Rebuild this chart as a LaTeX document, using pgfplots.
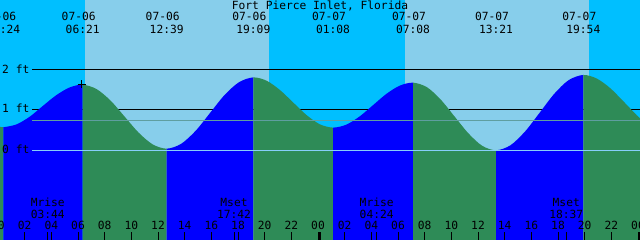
\documentclass[border=0pt]{standalone}
\usepackage{pgfplots}
\pgfplotsset{compat=1.18}
\usepgfplotslibrary{fillbetween}
\usepackage{fontspec}
\newfontfamily\mono{DejaVu Sans Mono}
\definecolor{night}{HTML}{00BFFF}
\definecolor{day}{HTML}{87CEEB}
\definecolor{rise}{HTML}{0000FF}
\definecolor{fall}{HTML}{2E8B57}
\definecolor{meanc}{HTML}{5F9EA0}
\definecolor{zeroc}{HTML}{87CEFA}
\begin{document}
\begin{tikzpicture}[lbl/.style={font=\mono\fontsize{11.3}{12}\selectfont, inner sep=0pt, anchor=base, text=black}]
\begin{axis}[name=ax, width=640bp, height=240bp, scale only axis,
 xmin=0.15, xmax=48.15, ymin=-2.215, ymax=3.711,
 axis line style={draw=none},
 axis background/.style={fill=night},
 xtick={0,2,...,48}, xticklabel={}, ytick=\empty,
 xtick pos=left, tick align=inside, major tick length=8bp,
 tick style={black, line width=1bp},
 axis on top, clip=true]
% daylight bands
\addplot[on layer=pre main, fill=day, draw=none] coordinates {(6.53,-2.3) (6.53,3.8) (20.33,3.8) (20.33,-2.3)} -- cycle;
\addplot[on layer=pre main, fill=day, draw=none] coordinates {(30.53,-2.3) (30.53,3.8) (44.33,3.8) (44.33,-2.3)} -- cycle;
% level lines behind tide
\addplot[on layer=pre main, black, line width=1bp] coordinates {(2.55,2) (48.2,2)};
\addplot[on layer=pre main, black, line width=1bp] coordinates {(2.55,1) (48.2,1)};
% tide curve
\addplot[name path=tide, draw=none, smooth] coordinates {
(0.0,0.59) (0.4,0.57) (1.39,0.64) (2.38,0.83) (3.38,1.10) (4.37,1.36) (5.36,1.55) (6.35,1.62)
(7.40,1.51) (8.45,1.225) (9.50,0.83) (10.55,0.435) (11.60,0.146) (12.65,0.04)
(13.73,0.158) (14.82,0.48) (15.90,0.92) (16.98,1.36) (18.07,1.68) (19.15,1.80)
(20.15,1.717) (21.14,1.49) (22.14,1.18) (23.14,0.87) (24.13,0.643) (25.13,0.56)
(26.13,0.634) (27.13,0.838) (28.13,1.115) (29.13,1.393) (30.13,1.596) (31.13,1.67)
(32.17,1.558) (33.20,1.253) (34.24,0.835) (35.28,0.418) (36.31,0.112) (37.35,0.00)
(38.44,0.125) (39.53,0.465) (40.63,0.93) (41.72,1.395) (42.81,1.735) (43.9,1.86)
(44.9,1.773) (45.9,1.539) (46.9,1.21) (47.9,0.867) (48.2,0.78)};
\addplot[name path=bot, draw=none] coordinates {(0.0,-2.3) (48.2,-2.3)};
\addplot[fall] fill between[of=tide and bot, soft clip={domain=0.0:0.4}];
\addplot[rise] fill between[of=tide and bot, soft clip={domain=0.4:6.35}];
\addplot[fall] fill between[of=tide and bot, soft clip={domain=6.35:12.65}];
\addplot[rise] fill between[of=tide and bot, soft clip={domain=12.65:19.15}];
\addplot[fall] fill between[of=tide and bot, soft clip={domain=19.15:25.13}];
\addplot[rise] fill between[of=tide and bot, soft clip={domain=25.13:31.13}];
\addplot[fall] fill between[of=tide and bot, soft clip={domain=31.13:37.35}];
\addplot[rise] fill between[of=tide and bot, soft clip={domain=37.35:43.9}];
\addplot[fall] fill between[of=tide and bot, soft clip={domain=43.9:48.2}];
% lines on top
\addplot[meanc, line width=1bp] coordinates {(2.55,0.741) (48.2,0.741)};
\addplot[zeroc, line width=1bp] coordinates {(2.55,0) (48.2,0)};
% current marker
\addplot[black, only marks, mark=+, mark size=4bp, mark options={line width=1bp}] coordinates {(6.28,1.63)};
% moon ticks and midnight marks
\addplot[black, line width=1bp] coordinates {(3.73,-2.3) (3.73,-2.017)};
\addplot[black, line width=1bp] coordinates {(17.7,-2.3) (17.7,-2.017)};
\addplot[black, line width=1bp] coordinates {(28.4,-2.3) (28.4,-2.017)};
\addplot[black, line width=1bp] coordinates {(42.62,-2.3) (42.62,-2.017)};
\addplot[black, line width=3bp] coordinates {(24.1,-2.3) (24.1,-2.017)};
\addplot[black, line width=3bp] coordinates {(48.1,-2.3) (48.1,-2.017)};
% title
\node[lbl] at (axis cs:24.15,3.477) {Fort Pierce Inlet, Florida};
% tide times
\node[lbl, xshift=-4bp] at (axis cs:0.4,3.193) {07-06};  \node[lbl] at (axis cs:0.4,2.889) {00:24};
\node[lbl, xshift=-4bp] at (axis cs:6.35,3.193) {07-06}; \node[lbl] at (axis cs:6.35,2.889) {06:21};
\node[lbl, xshift=-4bp] at (axis cs:12.65,3.193) {07-06}; \node[lbl] at (axis cs:12.65,2.889) {12:39};
\node[lbl, xshift=-4bp] at (axis cs:19.15,3.193) {07-06}; \node[lbl] at (axis cs:19.15,2.889) {19:09};
\node[lbl, xshift=-4bp] at (axis cs:25.13,3.193) {07-07}; \node[lbl] at (axis cs:25.13,2.889) {01:08};
\node[lbl, xshift=-4bp] at (axis cs:31.13,3.193) {07-07}; \node[lbl] at (axis cs:31.13,2.889) {07:08};
\node[lbl, xshift=-4bp] at (axis cs:37.35,3.193) {07-07}; \node[lbl] at (axis cs:37.35,2.889) {13:21};
\node[lbl, xshift=-4bp] at (axis cs:43.9,3.193) {07-07}; \node[lbl] at (axis cs:43.9,2.889) {19:54};
% level labels
\node[lbl, anchor=base west] at (axis cs:0.3,1.901) {2 ft};
\node[lbl, anchor=base west] at (axis cs:0.3,0.928) {1 ft};
\node[lbl, anchor=base west] at (axis cs:0.3,-0.091) {0 ft};
% moon
\node[lbl] at (axis cs:3.73,-1.393) {Mrise}; \node[lbl] at (axis cs:3.73,-1.679) {03:44};
\node[lbl] at (axis cs:17.7,-1.393) {Mset};  \node[lbl] at (axis cs:17.7,-1.679) {17:42};
\node[lbl] at (axis cs:28.4,-1.393) {Mrise}; \node[lbl] at (axis cs:28.4,-1.679) {04:24};
\node[lbl] at (axis cs:42.62,-1.393) {Mset}; \node[lbl] at (axis cs:42.62,-1.679) {18:37};
% hour labels
\node[lbl] at (axis cs:0,-1.968) {00};  \node[lbl] at (axis cs:2,-1.968) {02};
\node[lbl] at (axis cs:4,-1.968) {04};  \node[lbl] at (axis cs:6,-1.968) {06};
\node[lbl] at (axis cs:8,-1.968) {08};  \node[lbl] at (axis cs:10,-1.968) {10};
\node[lbl] at (axis cs:12,-1.968) {12}; \node[lbl] at (axis cs:14,-1.968) {14};
\node[lbl] at (axis cs:16,-1.968) {16}; \node[lbl] at (axis cs:18,-1.968) {18};
\node[lbl] at (axis cs:20,-1.968) {20}; \node[lbl] at (axis cs:22,-1.968) {22};
\node[lbl] at (axis cs:24,-1.968) {00}; \node[lbl] at (axis cs:26,-1.968) {02};
\node[lbl] at (axis cs:28,-1.968) {04}; \node[lbl] at (axis cs:30,-1.968) {06};
\node[lbl] at (axis cs:32,-1.968) {08}; \node[lbl] at (axis cs:34,-1.968) {10};
\node[lbl] at (axis cs:36,-1.968) {12}; \node[lbl] at (axis cs:38,-1.968) {14};
\node[lbl] at (axis cs:40,-1.968) {16}; \node[lbl] at (axis cs:42,-1.968) {18};
\node[lbl] at (axis cs:44,-1.968) {20}; \node[lbl] at (axis cs:46,-1.968) {22};
\node[lbl] at (axis cs:48,-1.968) {00};
\end{axis}
\pgfresetboundingbox
\path (ax.south west) rectangle (ax.north east);
\end{tikzpicture}
\end{document}
